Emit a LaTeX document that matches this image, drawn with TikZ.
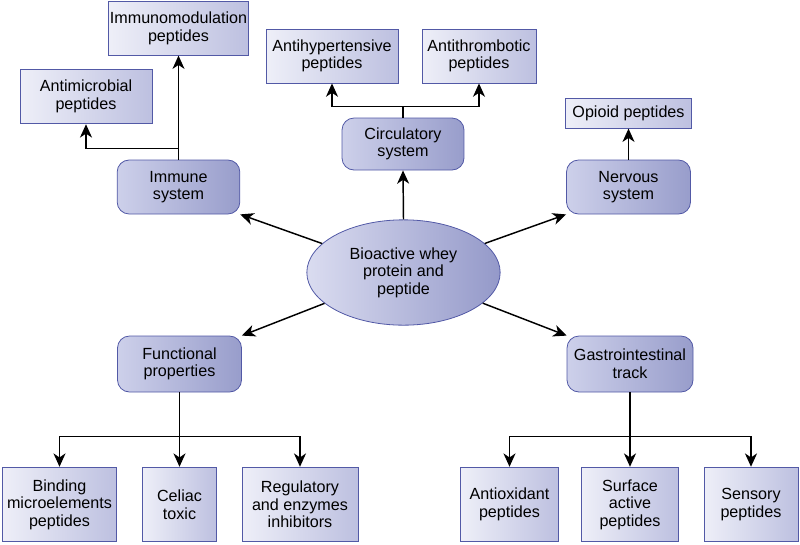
\documentclass[tikz,border=0pt]{standalone}
\usepackage{fontspec}
\setmainfont{Liberation Sans}
\usetikzlibrary{arrows.meta, positioning, shapes.geometric}
\definecolor{edgeblue}{HTML}{5259A6}
\definecolor{leafL}{HTML}{EEEFF8}
\definecolor{leafR}{HTML}{BDC0E0}
\definecolor{sysL}{HTML}{CDD0EA}
\definecolor{sysR}{HTML}{989DCB}
\definecolor{hubL}{HTML}{DADCF0}
\definecolor{hubR}{HTML}{9499C9}

\begin{document}
\begin{tikzpicture}[x=0.75pt, y=-0.75pt, >={Stealth[length=10pt, width=9pt, inset=3pt]},
  leaf/.style={draw=edgeblue, line width=0.6pt, left color=leafL, right color=leafR, align=center, inner sep=1pt,
    font=\fontsize{12.1}{13.2}\selectfont, minimum height=40.5pt},
  sys/.style={leaf, rounded corners=9pt, left color=sysL, right color=sysR},
  hub/.style={leaf, ellipse, left color=hubL, right color=hubR, minimum width=145pt, minimum height=79pt},
  arr/.style={->, line width=1.1pt}]
\useasboundingbox (0,0) rectangle (800,544);
% centre
\node[hub] (whey) at (403.5,272.5) {Bioactive whey\\ protein and\\ peptide};
% systems
\node[sys, minimum width=92pt] (immune) at (178.5,187) {Immune\\ system};
\node[sys, minimum width=91.5pt, minimum height=39pt] (circ) at (403,144) {Circulatory\\ system};
\node[sys, minimum width=93pt] (nerv) at (628.5,187) {Nervous\\ system};
\node[sys, minimum width=93pt, minimum height=42pt] (func) at (179.5,364) {Functional\\ properties};
\node[sys, minimum width=94.5pt, minimum height=42pt] (gastro) at (630,364) {Gastrointestinal\\ track};
% peptides, top
\node[leaf, minimum width=105pt, minimum height=40pt] (immod) at (178.5,28.5) {Immunomodulation\\ peptides};
\node[leaf, minimum width=99pt, minimum height=41pt] (antimic) at (86,96.5) {Antimicrobial\\ peptides};
\node[leaf, minimum width=99pt] (antihyp) at (332,56) {Antihypertensive\\ peptides};
\node[leaf, minimum width=85.5pt] (antithr) at (479,56) {Antithrombotic\\ peptides};
\node[leaf, minimum width=94.5pt, minimum height=22pt] (opioid) at (628.5,113.5) {Opioid peptides};
% peptides, bottom
\node[leaf, minimum width=86pt, minimum height=56pt] (binding) at (59.5,504.5) {Binding\\ microelements\\ peptides};
\node[leaf, minimum width=55.5pt, minimum height=56pt] (celiac) at (179.5,504.5) {Celiac\\ toxic};
\node[leaf, minimum width=87pt, minimum height=56pt] (regul) at (300,504.5) {Regulatory\\ and enzymes\\ inhibitors};
\node[leaf, minimum width=73pt, minimum height=56pt] (antiox) at (509.5,504.5) {Antioxidant\\ peptides};
\node[leaf, minimum width=73pt, minimum height=56pt] (surf) at (630,504.5) {Surface\\ active\\ peptides};
\node[leaf, minimum width=70.5pt, minimum height=56pt] (sens) at (751,504.5) {Sensory\\ peptides};
% from the centre
\draw[arr] (whey.north) -- (circ.south);
\draw[arr] (whey) -- (immune.south east);
\draw[arr] (whey) -- (nerv.south west);
\draw[arr] (whey) -- (func.north east);
\draw[arr] (whey) -- (gastro.north west);
% branches
\draw[arr] (immune.north) -- (immod.south);
\draw[arr] (immune.north) -- ++(0,-11) -| (antimic.south);
\draw[arr] (circ.north) -- ++(0,-11) -| (antihyp.south);
\draw[arr] (circ.north) -- ++(0,-11) -| (antithr.south);
\draw[arr] (nerv.north) -- (opioid.south);
\draw[arr] (func.south) -- (celiac.north);
\draw[arr] (func.south) -- ++(0,44) -| (binding.north);
\draw[arr] (func.south) -- ++(0,44) -| (regul.north);
\draw[arr] (gastro.south) -- (surf.north);
\draw[arr] (gastro.south) -- ++(0,44) -| (antiox.north);
\draw[arr] (gastro.south) -- ++(0,44) -| (sens.north);
\end{tikzpicture}
\end{document}
